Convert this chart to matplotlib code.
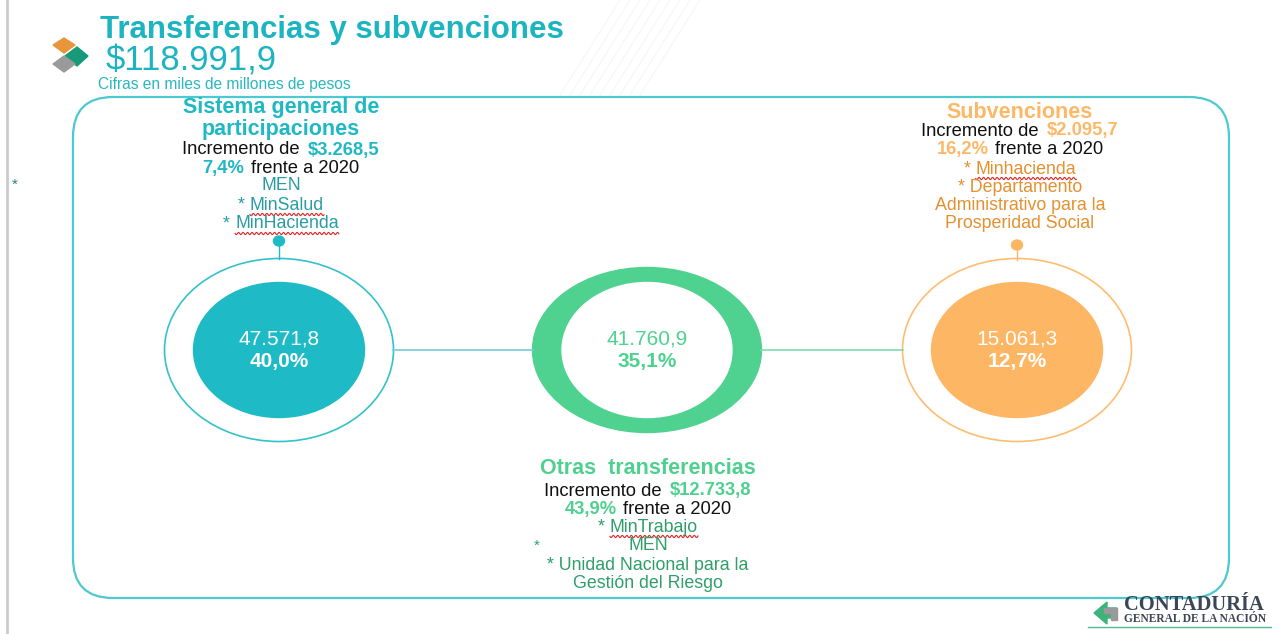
import matplotlib.pyplot as plt
import numpy as np
from matplotlib.patches import Ellipse, FancyBboxPatch, Polygon

plt.rcParams['font.family'] = ['Liberation Sans', 'DejaVu Sans']

title = 'Transferencias y subvenciones'
total = '$118.991,9'
subtitle = 'Cifras en miles de millones de pesos'

names = [['Sistema general de', 'participaciones'], ['Otras  transferencias'], ['Subvenciones']]
values = ['47.571,8', '41.760,9', '15.061,3']
shares = ['40,0%', '35,1%', '12,7%']
increments = ['$3.268,5', '$12.733,8', '$2.095,7']
growth = ['7,4%', '43,9%', '16,2%']
entities = [['MEN', '* MinSalud', '* MinHacienda'],
            ['* MinTrabajo', 'MEN', '* Unidad Nacional para la', 'Gestión del Riesgo'],
            ['* Minhacienda', '* Departamento', 'Administrativo para la', 'Prosperidad Social']]

main = ['#1ebbc6', '#4fd28f', '#fdb663']
head = ['#1fb8c3', '#4fd08f', '#fbb968']
ent_col = ['#2a9ca4', '#2f9e6a', '#e4902f']
link = ['#6fd0d6', '#7fdcae']

fig = plt.figure(figsize=(12.72, 6.34), dpi=100)
ax = fig.add_axes([0, 0, 1, 1])
ax.set_xlim(0, 1272)
ax.set_ylim(634, 0)
ax.axis('off')
r = fig.canvas.get_renderer()

# faint texture near the top
for k in range(9):
    ax.plot([560 + k * 10, 600 + k * 10 + 20], [95, 0], color='#f6f6f6', lw=0.8, zorder=0)

# slide frame
ax.plot([7, 7], [0, 634], color='#cccccc', lw=2)
ax.add_patch(FancyBboxPatch((113, 137), 1076, 421, boxstyle='round,pad=40',
                            fc='none', ec='#4cc9d1', lw=1.6))

# logo top-left
ax.add_patch(Polygon([(53, 45), (64, 38), (75, 45), (64, 53)], color='#e8953a'))
ax.add_patch(Polygon([(65, 56), (77, 47), (88, 56), (77, 66)], color='#169a78'))
ax.add_patch(Polygon([(53, 64), (64, 56), (75, 64), (64, 72)], color='#9a9a9a'))

ax.text(100, 30, title, fontsize=22.5, fontweight='bold', color='#1bb4c0', va='center')
ax.text(106, 61, total, fontsize=25, color='#1bb4c0', va='center')
ax.text(98, 85, subtitle, fontsize=11.2, color='#2bb6c0', va='center')


def line(cx, y, parts, size, gap_f=0.4):
    texts = []
    for s, c, w in parts:
        texts.append(ax.text(0, y, s, fontsize=size, color=c, fontweight=w, va='center'))
    widths = [t.get_window_extent(r).width for t in texts]
    gap = size * gap_f
    x = cx - (sum(widths) + gap * (len(texts) - 1)) / 2
    for t, w in zip(texts, widths):
        t.set_x(x)
        x += w + gap
    return texts


def wavy(t):
    bb = t.get_window_extent(r)
    xs = np.linspace(bb.x0, bb.x1, 200)
    yb = 634 - bb.y0 + 1
    ax.plot(xs, yb + 1.1 * np.sin((xs - bb.x0) * 2 * np.pi / 4.5), color='#e02424', lw=0.8)


cx = [279, 647, 1017]
tx = [281, 648, 1020]
head_y = [[108, 130], [469], [112]]
inc_y = [150, 491, 131]
ent_y = [[186, 205, 224], [527, 546, 565, 583], [169, 187, 206, 224]]

for i in range(3):
    for s, y in zip(names[i], head_y[i]):
        ax.text(tx[i], y, s, fontsize=15.5, fontweight='bold', color=head[i], ha='center', va='center')
    line(tx[i], inc_y[i], [('Incremento de', '#111111', 'normal'), (increments[i], head[i], 'bold')], 13.2, 0.6)
    line(tx[i], inc_y[i] + 18.5, [(growth[i], head[i], 'bold'), ('frente a 2020', '#111111', 'normal')], 13.2, 0.5)
    for s, y in zip(entities[i], ent_y[i]):
        if s.startswith('* Min'):
            ts = line(tx[i], y, [('*', ent_col[i], 'normal'), (s[2:], ent_col[i], 'normal')], 12.8)
            wavy(ts[1])
        else:
            ax.text(tx[i], y, s, fontsize=12.8, color=ent_col[i], ha='center', va='center')

ax.text(15, 185, '*', fontsize=11, color='#2a7f86', ha='center', va='center')
ax.text(537, 546, '*', fontsize=11, color='#2f9e6a', ha='center', va='center')

# circles
for i in [0, 2]:
    ax.add_patch(Ellipse((cx[i], 350), 229, 183, fc='white', ec=main[i], lw=1.2, alpha=0.9))
    ax.add_patch(Ellipse((cx[i], 350), 171, 135, color=main[i]))
    ax.text(cx[i], 339, values[i], fontsize=15, color='white', ha='center', va='center')
    ax.text(cx[i], 361, shares[i], fontsize=15, fontweight='bold', color='white', ha='center', va='center')
ax.add_patch(Ellipse((cx[1], 350), 229, 165, color=main[1]))
ax.add_patch(Ellipse((cx[1], 350), 170, 135, color='white'))
ax.text(cx[1], 339, values[1], fontsize=15, color=main[1], ha='center', va='center')
ax.text(cx[1], 361, shares[1], fontsize=15, fontweight='bold', color=main[1], ha='center', va='center')

# stems and links
ax.plot([cx[0], cx[0]], [241, 259], color=main[0], lw=1)
ax.add_patch(Ellipse((cx[0], 241), 11, 10, color=main[0]))
ax.plot([cx[2], cx[2]], [245, 260], color=main[2], lw=1)
ax.add_patch(Ellipse((cx[2], 245), 11, 10, color=main[2]))
ax.plot([cx[0] + 114, cx[1] - 114], [350, 350], color=link[0], lw=1.2)
ax.plot([cx[1] + 114, cx[2] - 114], [350, 350], color=link[1], lw=1.2)

# footer logo
ax.add_patch(Polygon([(1094, 613), (1107, 602), (1107, 608), (1117, 608), (1117, 618),
                      (1107, 618), (1107, 624)], color='#3db37a'))
ax.add_patch(Polygon([(1104, 608), (1117, 608), (1117, 620), (1111, 620), (1111, 613), (1104, 613)],
                     color='#9a9a9a'))
ax.text(1124, 605, 'CONTADURÍA', fontsize=14.8, fontweight='bold', family='Liberation Serif',
        color='#3b4756', va='center')
ax.text(1124, 619, 'GENERAL DE LA NACIÓN', fontsize=8.3, fontweight='bold', family='Liberation Serif',
        color='#3b4756', va='center')
ax.plot([1088, 1272], [627, 627], color='#4fc08a', lw=1)

fig.savefig('out.png', dpi=100)
